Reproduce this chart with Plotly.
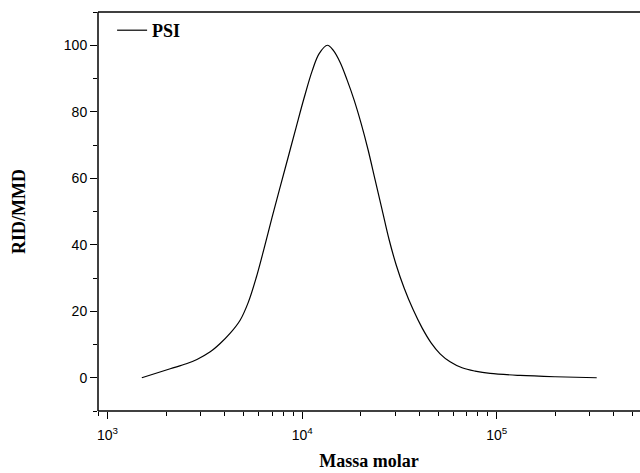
import plotly.graph_objects as go

# Data (molar mass vs normalized RID signal)
massa_molar = [1500, 2100, 2540, 2880, 3370, 3790, 4270, 4800, 5280, 5800, 6380, 7010,
               7710, 8480, 9320, 10240, 11260, 12230, 13490, 14430, 15680, 17030,
               18500, 20090, 21830, 23710, 25760, 27990, 30400, 33420, 37160, 41330,
               45980, 51150, 57560, 66330, 77360, 92380, 131700, 199300, 326300]
rid_mmd = [0.0, 2.7, 4.2, 5.5, 7.8, 10.3, 13.4, 17.3, 22.6, 30.0, 39.0, 48.3,
           57.4, 66.4, 75.4, 84.2, 92.3, 97.5, 100.0, 98.5, 94.8, 89.5,
           83.5, 76.5, 68.5, 59.5, 50.5, 41.5, 34.0, 27.0, 20.5, 15.0,
           10.5, 7.2, 4.8, 3.0, 2.0, 1.3, 0.7, 0.3, 0.0]

y_ticks = [0, 20, 40, 60, 80, 100]
x_ticks = [1e3, 1e4, 1e5]
x_tick_text = ["10<sup>3</sup>", "10<sup>4</sup>", "10<sup>5</sup>"]
x_minor = [m * 10 ** e for e in (2, 3, 4, 5) for m in range(2, 10)]

serif = "Liberation Serif, Times New Roman, serif"
frame = dict(color="black", width=1.5)

fig = go.Figure()
fig.add_trace(go.Scatter(
    x=massa_molar, y=rid_mmd, mode="lines", name="<b>PSI</b>",
    line=dict(color="black", width=1.2, shape="spline", smoothing=1.0),
))

fig.update_layout(
    template="none",
    width=640, height=473,
    margin=dict(l=98, r=0, t=12, b=62),
    paper_bgcolor="white", plot_bgcolor="white",
    font=dict(family="Liberation Sans, Arial", color="black", size=14),
    showlegend=True,
    legend=dict(x=0.026, y=1.0, xanchor="left", yanchor="top",
                bgcolor="rgba(0,0,0,0)", borderwidth=0,
                font=dict(family=serif, size=18, color="black"),
                itemwidth=30, tracegroupgap=0),
    xaxis=dict(
        type="log", range=[2.951, 5.736],
        tickvals=x_ticks, ticktext=x_tick_text,
        ticks="outside", ticklen=7, tickwidth=1.2, tickcolor="black",
        ticklabelstandoff=4, automargin=False,
        showline=False, mirror=False,
        showgrid=False, zeroline=False,
        minor=dict(tickvals=x_minor, ticks="outside", ticklen=4, tickwidth=1.2,
                   tickcolor="black", showgrid=False),
        title=dict(text="<b>Massa molar</b>", standoff=12,
                   font=dict(family=serif, size=18)),
        tickfont=dict(size=14),
    ),
    yaxis=dict(
        range=[-10, 110],
        tickvals=y_ticks,
        ticks="outside", ticklen=7, tickwidth=1.2, tickcolor="black",
        showline=False, mirror=False,
        showgrid=False, zeroline=False, automargin=False,
        minor=dict(dtick=10, ticks="outside", ticklen=4, tickwidth=1.2,
                   tickcolor="black", showgrid=False),
        title=dict(text="<b>RID/MMD</b>", standoff=33,
                   font=dict(family=serif, size=18)),
        tickfont=dict(size=14),
    ),
    shapes=[
        dict(type="line", xref="paper", yref="paper", x0=0, x1=1, y0=1, y1=1, line=frame),
        dict(type="line", xref="paper", yref="paper", x0=0, x1=1, y0=0, y1=0, line=frame),
        dict(type="line", xref="paper", yref="paper", x0=0, x1=0, y0=0, y1=1, line=frame),
    ],
)

fig.write_html("out.html")
